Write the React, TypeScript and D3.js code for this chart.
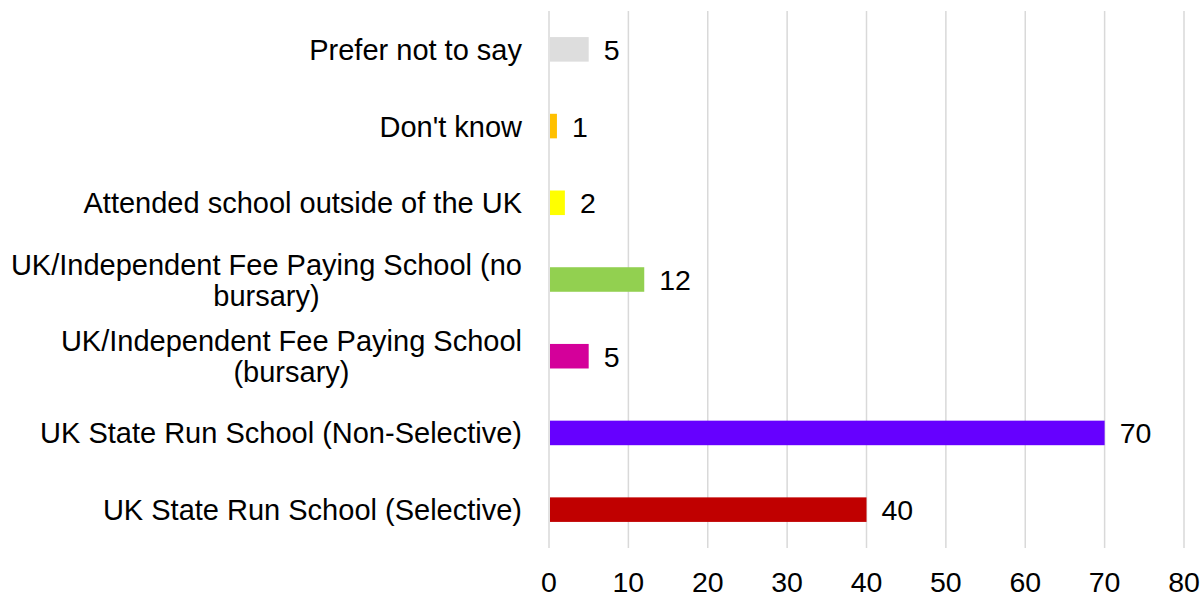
import React, { useEffect, useRef } from "react";
import * as d3 from "d3";

const categories = [
  "Prefer not to say",
  "Don't know",
  "Attended school outside of the UK",
  "UK/Independent Fee Paying School (no bursary)",
  "UK/Independent Fee Paying School (bursary)",
  "UK State Run School (Non-Selective)",
  "UK State Run School (Selective)",
];
const labelLines = [
  ["Prefer not to say"],
  ["Don't know"],
  ["Attended school outside of the UK"],
  ["UK/Independent Fee Paying School (no", "bursary)"],
  ["UK/Independent Fee Paying School", "(bursary)"],
  ["UK State Run School (Non-Selective)"],
  ["UK State Run School (Selective)"],
];
const values = [5, 1, 2, 12, 5, 70, 40];
const colors = ["#DDDDDD", "#FFC000", "#FFFF00", "#92D050", "#D4009A", "#6600FF", "#C00000"];
const xTicks = [0, 10, 20, 30, 40, 50, 60, 70, 80];

const W = 1202;
const H = 599;
const FONT = "'Liberation Sans', Arial, sans-serif";

export default function App() {
  const ref = useRef<SVGSVGElement>(null);

  useEffect(() => {
    const svg = d3.select(ref.current);
    svg.selectAll("*").remove();

    const x = d3.scaleLinear().domain([0, 80]).range([549, 1184]);
    const y = d3
      .scaleBand<string>()
      .domain(categories)
      .range([11, 548])
      .paddingInner(0.68)
      .paddingOuter(0.34);

    // gridlines
    svg
      .append("g")
      .selectAll("line")
      .data(xTicks)
      .join("line")
      .attr("x1", (d) => x(d))
      .attr("x2", (d) => x(d))
      .attr("y1", 11)
      .attr("y2", 548)
      .attr("stroke", "#D9D9D9")
      .attr("stroke-width", 1.5);

    // bars
    svg
      .append("g")
      .selectAll("rect")
      .data(categories)
      .join("rect")
      .attr("x", x(0) + 1)
      .attr("y", (d) => y(d)!)
      .attr("width", (d, i) => x(values[i]) - x(0) - 1)
      .attr("height", y.bandwidth())
      .attr("fill", (d, i) => colors[i]);

    // value labels
    svg
      .append("g")
      .selectAll("text")
      .data(categories)
      .join("text")
      .attr("x", (d, i) => x(values[i]) + 15)
      .attr("y", (d) => y(d)! + y.bandwidth() / 2 + 10.5)
      .attr("font-family", FONT)
      .attr("font-size", 28.5)
      .attr("fill", "#000")
      .text((d, i) => String(values[i]));

    // tick labels
    svg
      .append("g")
      .selectAll("text")
      .data(xTicks)
      .join("text")
      .attr("x", (d) => x(d))
      .attr("y", 592)
      .attr("text-anchor", "middle")
      .attr("font-family", FONT)
      .attr("font-size", 28.5)
      .attr("fill", "#000")
      .text((d) => String(d));

    // category labels
    const right = 522;
    const lineH = 31;
    const lg = svg.append("g");
    categories.forEach((c, i) => {
      const lines = labelLines[i];
      const cy = y(c)! + y.bandwidth() / 2;
      const texts = lines.map((ln, j) =>
        lg
          .append("text")
          .attr("font-family", FONT)
          .attr("font-size", 29)
          .attr("fill", "#000")
          .attr("y", cy + (j - (lines.length - 1) / 2) * lineH + 10.5)
          .text(ln)
      );
      const widths = texts.map((t) => (t.node() as SVGTextElement).getComputedTextLength());
      const maxW = Math.max(...widths);
      const center = right - maxW / 2;
      texts.forEach((t) => t.attr("x", center).attr("text-anchor", "middle"));
    });
  }, []);

  return (
    <svg
      ref={ref}
      width={W}
      height={H}
      style={{ position: "absolute", left: 0, top: 0, background: "#fff" }}
    />
  );
}
